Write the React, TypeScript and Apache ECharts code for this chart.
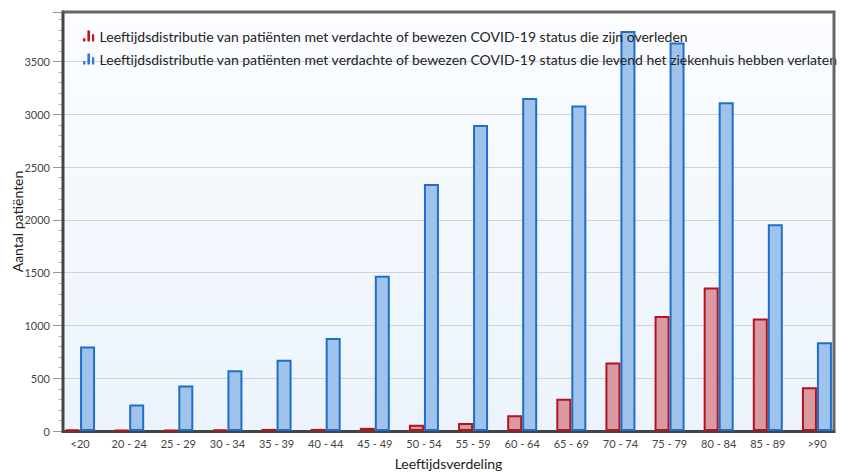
import React, { useEffect, useRef } from "react";
import * as echarts from "echarts";

const categories = ["<20", "20 - 24", "25 - 29", "30 - 34", "35 - 39", "40 - 44", "45 - 49", "50 - 54", "55 - 59", "60 - 64", "65 - 69", "70 - 74", "75 - 79", "80 - 84", "85 - 89", ">90"];
const deceased = [15, 10, 10, 12, 20, 20, 30, 60, 75, 150, 305, 650, 1090, 1360, 1065, 415];
const discharged = [800, 250, 430, 575, 675, 880, 1470, 2340, 2900, 3155, 3085, 3790, 3680, 3115, 1960, 840];
const seriesNames = [
  "Leeftijdsdistributie van patiënten met verdachte of bewezen COVID-19 status die zijn overleden",
  "Leeftijdsdistributie van patiënten met verdachte of bewezen COVID-19 status die levend het ziekenhuis hebben verlaten",
];

const FONT = "Lato, 'Noto Sans', sans-serif";
const ICON = "path://M0,7h2.2v3h-2.2z M4,0h2.4v10h-2.4z M8.2,3.5h2v6.5h-2z";

export default function App() {
  const ref = useRef<HTMLDivElement>(null);
  useEffect(() => {
    if (!ref.current) return;
    const chart = echarts.init(ref.current, null, { renderer: "svg" });
    const L = 63, R = 834, T = 12, B = 431;
    chart.setOption({
      animation: false,
      textStyle: { fontFamily: FONT },
      grid: { left: 55.5, top: T, width: 786, height: B - T, outerBoundsMode: "none", containLabel: false },
      legend: {
        orient: "vertical",
        left: 78,
        top: 24,
        itemGap: 9,
        itemWidth: 12,
        itemHeight: 11,
        icon: ICON,
        textStyle: { fontSize: 14, color: "#222", fontFamily: FONT },
        data: [
          { name: seriesNames[0], itemStyle: { color: "#c0161e", borderWidth: 0 } },
          { name: seriesNames[1], itemStyle: { color: "#2a7ad5", borderWidth: 0 } },
        ],
      },
      xAxis: {
        type: "category",
        data: categories,
        boundaryGap: true,
        axisLine: { show: false },
        axisTick: { show: false },
        axisLabel: { fontSize: 11, color: "#444", margin: 7, interval: 0 },
        name: "Leeftijdsverdeling",
        nameLocation: "middle",
        nameGap: 25,
        nameMoveOverlap: false,
        nameTextStyle: { fontSize: 14, color: "#222" },
      },
      yAxis: {
        type: "value",
        min: 0,
        max: 3970,
        interval: 500,
        offset: -7.5,
        axisLine: { show: false },
        axisTick: { show: true, length: 10, lineStyle: { color: "#999" } },
        minorTick: { show: true, splitNumber: 5, length: 5, lineStyle: { color: "#bbb" } },
        axisLabel: {
          fontSize: 11,
          color: "#444",
          margin: 13,
          showMaxLabel: false,
          formatter: (v: number) => (v % 500 === 0 ? String(v) : ""),
        },
        splitLine: { show: true, lineStyle: { color: "#cfd4dc", width: 1 } },
        name: "Aantal patiënten",
        nameLocation: "middle",
        nameRotate: 90,
        nameGap: 39,
        nameMoveOverlap: false,
        nameTextStyle: { fontSize: 14, color: "#222" },
      },
      series: [
        {
          name: seriesNames[0],
          type: "bar",
          z: 3,
          data: deceased,
          barWidth: 15,
          barGap: "0%",
          itemStyle: { color: "#d99aa1", borderColor: "#b3141d", borderWidth: 2 },
        },
        {
          name: seriesNames[1],
          type: "bar",
          z: 3,
          data: discharged,
          barWidth: 15,
          barGap: "0%",
          itemStyle: { color: "#9fc3ea", borderColor: "#1f6fca", borderWidth: 2 },
        },
      ],
      graphic: [
        {
          type: "rect",
          z: -10,
          silent: true,
          shape: { x: L, y: T, width: R - L, height: B - T },
          style: {
            fill: new echarts.graphic.LinearGradient(0, 0, 0, 1, [
              { offset: 0, color: "#fbfdff" },
              { offset: 1, color: "#ecf3fc" },
            ]),
          },
        },
        {
          type: "rect",
          z: 1,
          silent: true,
          shape: { x: R + 1, y: 0, width: 30, height: 445 },
          style: { fill: "#ffffff" },
        },
        {
          type: "polyline",
          z: 10,
          silent: true,
          shape: { points: [[L, T], [R, T], [R, B]] },
          style: { stroke: "#666", lineWidth: 3, fill: null },
        },
        {
          type: "polyline",
          z: 2,
          silent: true,
          shape: { points: [[L, T - 1.5], [L, B + 0.5], [R + 1.5, B + 0.5]] },
          style: { stroke: "#444", lineWidth: 3, fill: null },
        },
      ],
    });
    return () => chart.dispose();
  }, []);
  return <div ref={ref} style={{ position: "absolute", left: 0, top: 0, width: 853, height: 472 }} />;
}
